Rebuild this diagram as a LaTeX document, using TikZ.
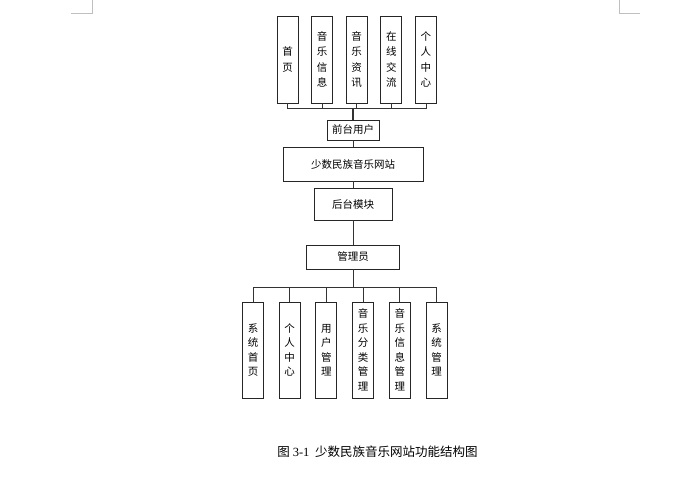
\documentclass[tikz,border=0pt]{standalone}
\usepackage{fontspec}
\newfontfamily\cjk{Noto Sans CJK SC}
\newfontfamily\capnum{Liberation Serif}
\usetikzlibrary{positioning}

\begin{document}
\begin{tikzpicture}[x=1pt,y=-1pt]
   \tikzstyle{every node}=[font=\cjk\fontsize{10.5}{15.5}\selectfont, inner sep=0pt]
   \tikzstyle{vbox}=[draw=black!85, line width=0.9pt, minimum width=21pt, align=center]
   \tikzstyle{hbox}=[draw=black!85, line width=0.9pt]
   \tikzstyle{link}=[draw=black!80, line width=0.8pt]
   \tikzstyle{cornermark}=[draw=black!25, line width=0.5pt]

\useasboundingbox (0,0) rectangle (695,491);

% page corner marks
\draw[cornermark] (71,13) -- (92,13) -- (92,0);
\draw[cornermark] (640,13) -- (619,13) -- (619,0);

% front part
\foreach \txt [count=\i] in {首\\页, 音\\乐\\信\\息, 音\\乐\\资\\讯, 在\\线\\交\\流, 个\\人\\中\\心}
   \node[vbox, minimum height=87pt] (t\i) at ({287.5+34.6*(\i-1)},59.5) {\txt};

\node[hbox, minimum width=52pt, minimum height=20pt] (front) at (353,130) {前台用户};
\node[hbox, minimum width=140pt, minimum height=34pt] (site) at (353,164) {少数民族音乐网站};
\node[hbox, minimum width=78pt, minimum height=32pt] (back) at (353,204) {后台模块};
\node[hbox, minimum width=93pt, minimum height=24pt] (admin) at (353,257) {管理员};

\coordinate (tbus) at (353,108);
\coordinate (bbus) at (353,287);

\foreach \i in {1,...,5}
   \draw[link] (t\i.south) |- (tbus);
\draw[link, line width=1.5pt] (tbus) -- (front.north);
\draw[link] (front) -- (site);
\draw[link] (site) -- (back);
\draw[link] (back) -- (admin);
\draw[link] (admin) -- (bbus);

% back part
\foreach \txt [count=\i] in {系\\统\\首\\页, 个\\人\\中\\心, 用\\户\\管\\理, 音\\乐\\分\\类\\管\\理, 音\\乐\\信\\息\\管\\理, 系\\统\\管\\理}
   \node[vbox, minimum height=96pt, font=\cjk\fontsize{10.5}{14.5}\selectfont] (b\i) at ({253+36.7*(\i-1)},350) {\txt};

\foreach \i in {1,...,6}
   \draw[link] (bbus) -| (b\i.north);

\node[font=\cjk\fontsize{12.5}{14}\selectfont] (caption) at (377.5,452) {图 {\capnum 3-1}\ \ 少数民族音乐网站功能结构图};

\end{tikzpicture}
\end{document}
